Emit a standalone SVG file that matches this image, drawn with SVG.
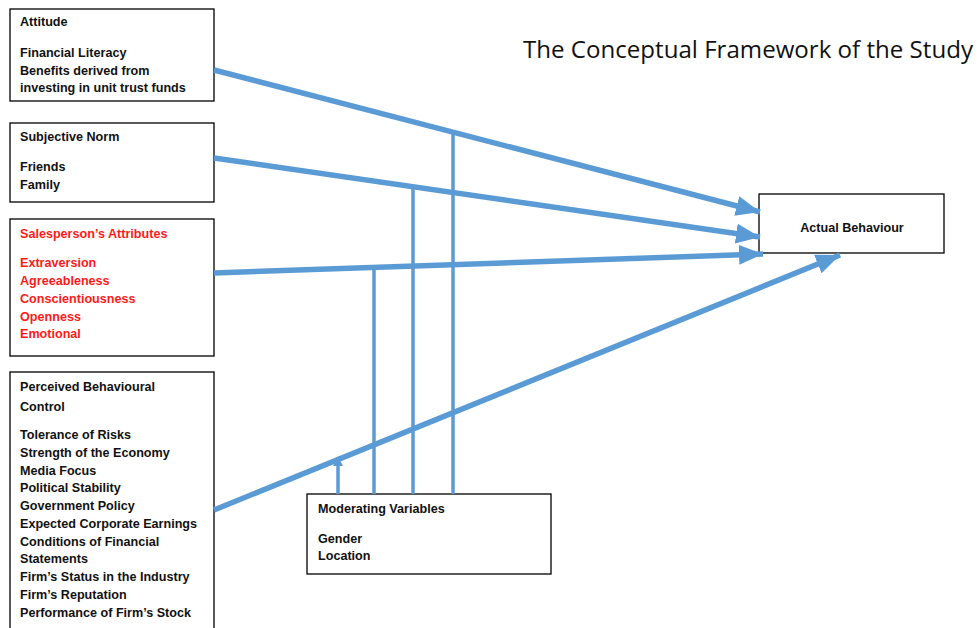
<svg xmlns="http://www.w3.org/2000/svg" width="979" height="628" viewBox="0 0 979 628">
<style>
.box{fill:#fff;stroke:#000;stroke-width:1.3}
.t{font-family:"Liberation Sans",Arial,sans-serif;font-weight:bold;font-size:12.6px;fill:#111}
.r{fill:#ff1a1a}
.title{font-family:"Open Sans","Liberation Sans",sans-serif;font-size:23.5px;fill:#111}
.arr{stroke:#5b9bd5;stroke-width:5.5;fill:none}
.mod{stroke:#5b9bd5;stroke-width:3.5;fill:none}
</style>
<defs>
<marker id="ah" markerUnits="userSpaceOnUse" markerWidth="26" markerHeight="20" refX="24" refY="10" orient="auto">
<path d="M0,0 L24,10 L0,20 Z" fill="#5b9bd5"/>
</marker>
<marker id="sh" markerUnits="userSpaceOnUse" markerWidth="12" markerHeight="10" refX="9" refY="5" orient="auto">
<path d="M0,0 L10,5 L0,10 Z" fill="#5b9bd5"/>
</marker>
</defs>
<rect width="979" height="628" fill="#fff"/>
<text class="title" x="523" y="58" textLength="450" lengthAdjust="spacingAndGlyphs">The Conceptual Framework of the Study</text>
<g id="attitude">
<rect class="box" x="10" y="9" width="204" height="92"/>
<text class="t" x="20" y="26">Attitude</text>
<text class="t" x="20" y="57">Financial Literacy</text>
<text class="t" x="20" y="75">Benefits derived from</text>
<text class="t" x="20" y="92">investing in unit trust funds</text>
</g>
<g id="subjective-norm">
<rect class="box" x="10" y="123" width="204" height="79"/>
<text class="t" x="20" y="141">Subjective Norm</text>
<text class="t" x="20" y="171">Friends</text>
<text class="t" x="20" y="189">Family</text>
</g>
<g id="salesperson">
<rect class="box" x="10" y="219" width="204" height="137"/>
<text class="t r" x="20" y="238">Salesperson’s Attributes</text>
<text class="t r" x="20" y="267">Extraversion</text>
<text class="t r" x="20" y="285">Agreeableness</text>
<text class="t r" x="20" y="303">Conscientiousness</text>
<text class="t r" x="20" y="321">Openness</text>
<text class="t r" x="20" y="338">Emotional</text>
</g>
<g id="pbc">
<rect class="box" x="10" y="372" width="204" height="262"/>
<text class="t" x="20" y="391">Perceived Behavioural</text>
<text class="t" x="20" y="411">Control</text>
<text class="t" x="20" y="439">Tolerance of Risks</text>
<text class="t" x="20" y="457">Strength of the Economy</text>
<text class="t" x="20" y="475">Media Focus</text>
<text class="t" x="20" y="492">Political Stability</text>
<text class="t" x="20" y="510">Government Policy</text>
<text class="t" x="20" y="528">Expected Corporate Earnings</text>
<text class="t" x="20" y="546">Conditions of Financial</text>
<text class="t" x="20" y="563">Statements</text>
<text class="t" x="20" y="581">Firm’s Status in the Industry</text>
<text class="t" x="20" y="599">Firm’s Reputation</text>
<text class="t" x="20" y="617">Performance of Firm’s Stock</text>
</g>
<g id="actual-behaviour">
<rect class="box" x="759" y="194" width="185" height="59"/>
<text class="t" x="852" y="232" text-anchor="middle">Actual Behaviour</text>
</g>
<g id="moderating">
<rect class="box" x="307" y="494" width="244" height="80"/>
<text class="t" x="318" y="513">Moderating Variables</text>
<text class="t" x="318" y="543">Gender</text>
<text class="t" x="318" y="560">Location</text>
</g>
<g id="connectors">
<line class="arr" x1="214" y1="70" x2="760" y2="212" marker-end="url(#ah)"/>
<line class="arr" x1="214" y1="158" x2="760" y2="237" marker-end="url(#ah)"/>
<line class="arr" x1="214" y1="273" x2="763" y2="254" marker-end="url(#ah)"/>
<line class="arr" x1="214" y1="510" x2="840" y2="255" marker-end="url(#ah)"/>
<line class="mod" x1="338" y1="494" x2="338" y2="457" marker-end="url(#sh)"/>
<line class="mod" x1="374" y1="494" x2="374" y2="267"/>
<line class="mod" x1="413" y1="494" x2="413" y2="187"/>
<line class="mod" x1="453" y1="494" x2="453" y2="133"/>
</g>
</svg>
